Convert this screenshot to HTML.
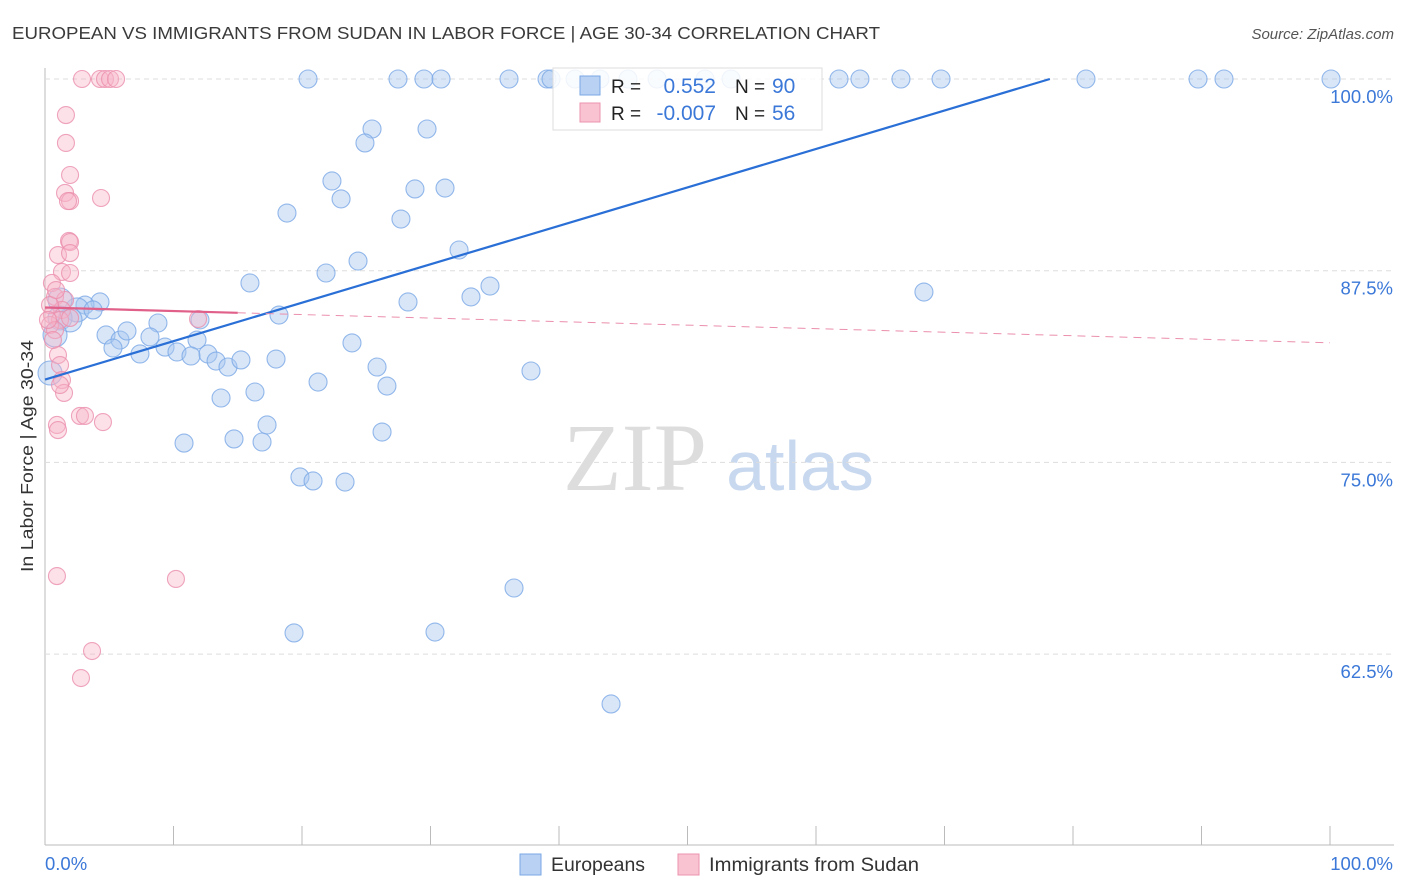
<!DOCTYPE html>
<html><head><meta charset="utf-8"><style>
body{margin:0;background:#fff;font-family:"Liberation Sans",sans-serif;}
svg{display:block}
</style></head><body>
<svg id="c" width="1406" height="892">
<text x="12" y="39" font-size="17.5" fill="#3a3a3a" textLength="868" lengthAdjust="spacingAndGlyphs">EUROPEAN VS IMMIGRANTS FROM SUDAN IN LABOR FORCE | AGE 30-34 CORRELATION CHART</text>
<text x="1394" y="39" font-size="15" fill="#555" font-style="italic" text-anchor="end">Source: ZipAtlas.com</text>
<text x="33" y="456" font-size="17.5" fill="#333" text-anchor="middle" textLength="232" lengthAdjust="spacingAndGlyphs" transform="rotate(-90 33 456)">In Labor Force | Age 30-34</text>
<g><text x="635" y="490" font-size="96" fill="#ddd" font-family="Liberation Serif,serif" text-anchor="middle">ZIP</text><text x="800" y="490" font-size="70" fill="#c8d8ef" text-anchor="middle">atlas</text></g>
<g id="grid"></g><g id="marks"></g>
<g>
<rect x="553" y="68" width="269" height="62" fill="#fff" fill-opacity="0.85" stroke="#ddd"/>
<rect x="580" y="76" width="20" height="19" fill="#b9d1f3" stroke="#7aa7e6"/>
<rect x="580" y="103" width="20" height="19" fill="#f9c3d2" stroke="#eb93ad"/>
<text x="611" y="93" font-size="19" fill="#222">R =</text><text x="716" y="93" font-size="21" fill="#3b78d8" text-anchor="end">0.552</text>
<text x="735" y="93" font-size="19" fill="#222">N =</text><text x="772" y="93" font-size="21" fill="#3b78d8">90</text>
<text x="611" y="120" font-size="19" fill="#222">R =</text><text x="716" y="120" font-size="21" fill="#3b78d8" text-anchor="end">-0.007</text>
<text x="735" y="120" font-size="19" fill="#222">N =</text><text x="772" y="120" font-size="21" fill="#3b78d8">56</text>
</g>
<g>
<rect x="520" y="854" width="21" height="21" fill="#b9d1f3" stroke="#7aa7e6"/>
<text x="551" y="871" font-size="19" fill="#333" textLength="94" lengthAdjust="spacingAndGlyphs">Europeans</text>
<rect x="678" y="854" width="21" height="21" fill="#f9c3d2" stroke="#eb93ad"/>
<text x="709" y="871" font-size="19" fill="#333" textLength="210" lengthAdjust="spacingAndGlyphs">Immigrants from Sudan</text>
</g>
<text x="45" y="870" font-size="18.5" fill="#3b78d8">0.0%</text>
<text x="1393" y="870" font-size="18.5" fill="#3b78d8" text-anchor="end">100.0%</text>
</svg>
<script>
const yTicks=[100,87.5,75,62.5];
const yTickLabels=["100.0%","87.5%","75.0%","62.5%"];
const bluePx=[[308,79],[398,79],[424,79],[441,79],[509,79],[547,79],[551,79],[575,79],[600,79],[628,79],[657,79],[705,79],[731,79],[839,79],[860,79],[901,79],[941,79],[1086,79],[1198,79],[1224,79],[1331,79],[372,129],[427,129],[365,143],[332,181],[415,189],[445,188],[341,199],[287,213],[401,219],[459,250],[358,261],[326,273],[250,283],[490,286],[471,297],[408,302],[924,292],[279,315],[100,302],[85,305],[77,310],[93,310],[60,318],[70,320],[106,335],[120,340],[127,331],[113,348],[140,354],[158,323],[150,337],[165,347],[177,352],[197,340],[208,354],[191,356],[216,361],[228,367],[241,360],[276,359],[352,343],[377,367],[387,386],[318,382],[531,371],[255,392],[221,398],[267,425],[234,439],[262,442],[184,443],[382,432],[300,477],[313,481],[345,482],[514,588],[294,633],[435,632],[611,704],[50,373],[55,335],[200,320],[60,300]];
const pinkPx=[[82,79],[100,79],[105,79],[110,79],[116,79],[66,115],[66,143],[70,175],[65,193],[70,201],[68,201],[101,198],[69,241],[70,242],[58,255],[70,253],[62,272],[70,273],[52,283],[55,297],[65,300],[62,310],[52,315],[60,320],[50,325],[55,330],[70,318],[198,319],[58,355],[60,365],[62,380],[64,393],[60,385],[57,425],[58,430],[80,416],[85,416],[103,422],[57,576],[176,579],[92,651],[81,678],[50,305],[48,320],[53,340],[56,290]];
const blueX=bluePx.map(p=>+((p[0]-45)/12.85).toFixed(2));
const blueY=bluePx.map(p=>+(100-(p[1]-79)/15.336).toFixed(2));
const pinkX=pinkPx.map(p=>+((p[0]-45)/12.85).toFixed(2));
const pinkY=pinkPx.map(p=>+(100-(p[1]-79)/15.336).toFixed(2));
const blueFit=[80.4,100,78.2];
const pinkFit=[85.1,82.8];
const X=v=>45+v*12.85, Y=v=>79+(100-v)*15.336;
const ns="http://www.w3.org/2000/svg";
function mk(tag,attrs,parent){const e=document.createElementNS(ns,tag);for(const k in attrs)e.setAttribute(k,attrs[k]);parent.appendChild(e);return e;}
const grid=document.getElementById('grid'),marks=document.getElementById('marks');
mk('line',{x1:45,y1:68,x2:45,y2:845,stroke:'#bbb'},grid);
mk('line',{x1:45,y1:845,x2:1394,y2:845,stroke:'#bbb'},grid);
for(let i=0;i<=10;i++){const t=mk('line',{x1:X(i*10),y1:826,x2:X(i*10),y2:845,stroke:'#bbb'},grid);

}
yTicks.forEach((v,i)=>{const l=mk('line',{x1:45,y1:Y(v),x2:1394,y2:Y(v),stroke:'#ddd','stroke-dasharray':'5,4'},grid);


const t=mk('text',{x:1393,y:Y(v)+24,'font-size':18.5,fill:'#3b78d8','text-anchor':'end'},grid);t.textContent=yTickLabels[i];

});
blueX.forEach((x,i)=>{const r=(x<3?12:9);const c=mk('circle',{cx:X(x),cy:Y(blueY[i]),r:r,fill:'#a9c8f0','fill-opacity':0.45,stroke:'#7aa7e6','stroke-opacity':0.8,'stroke-width':1.1},marks);

});
pinkX.forEach((x,i)=>{const c=mk('circle',{cx:X(x),cy:Y(pinkY[i]),r:8.5,fill:'#f7b5c8','fill-opacity':0.4,stroke:'#eb8fac','stroke-opacity':0.8,'stroke-width':1.1},marks);

});
const bl=mk('line',{x1:X(0),y1:Y(blueFit[0]),x2:X(blueFit[2]),y2:Y(blueFit[1]),stroke:'#2a6fd6','stroke-width':2.2},marks);


const py=x=>pinkFit[0]+(pinkFit[1]-pinkFit[0])*x/100;
const pl=mk('line',{x1:X(0),y1:Y(py(0)),x2:X(15),y2:Y(py(15)),stroke:'#e0608a','stroke-width':2.2},marks);


const pd=mk('line',{x1:X(15),y1:Y(py(15)),x2:X(100),y2:Y(py(100)),stroke:'#eb8fac','stroke-width':1,'stroke-dasharray':'8,6'},marks);


</script>
</body></html>
